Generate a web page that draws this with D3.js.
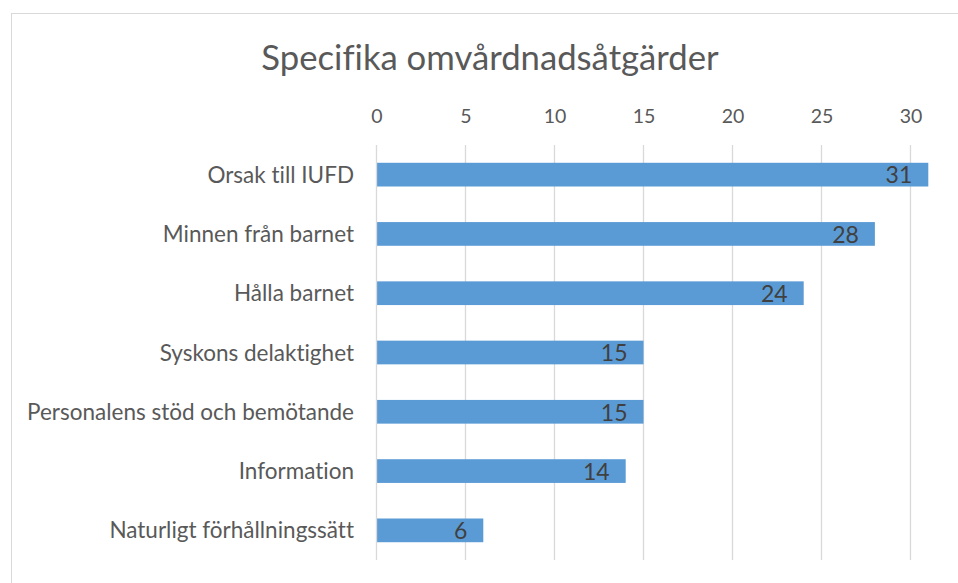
<!DOCTYPE html>
<html>
<head>
<meta charset="utf-8">
<script src="https://cdn.jsdelivr.net/npm/d3@7"></script>
<style>
  body { margin: 0; background: #fff; }
  svg { display: block; }
  text { font-variant-ligatures: none; }
</style>
</head>
<body>
<svg id="chart"></svg>
<script>
const categories = ["Orsak till IUFD", "Minnen från barnet", "Hålla barnet", "Syskons delaktighet",
  "Personalens stöd och bemötande", "Information", "Naturligt förhållningssätt"]
const values = [31, 28, 24, 15, 15, 14, 6]
const tickValues = [0, 5, 10, 15, 20, 25, 30]
const title = "Specifika omvårdnadsåtgärder"

const width = 958
const height = 583
const font = "Lato, sans-serif"

const svg = d3.select('#chart')
  .attr('width', width)
  .attr('height', height)

// chart border (cropped on the right and bottom)
svg.append('rect')
  .attr('x', 11.5)
  .attr('y', 13.5)
  .attr('width', 1000)
  .attr('height', 1000)
  .attr('fill', 'none')
  .attr('stroke', '#d9d9d9')

const margin = { left: 376.5, top: 145, bottom: 560 }

const x = d3.scaleLinear()
  .domain([0, 30])
  .range([margin.left, margin.left + 534])

const y = d3.scaleBand()
  .domain(categories)
  .range([margin.top, margin.bottom])
  .paddingInner(0.6)
  .paddingOuter(0.3)

// gridlines
svg.append('g')
  .selectAll('line')
  .data(tickValues.slice(1))
  .enter()
  .append('line')
  .attr('x1', d => x(d))
  .attr('x2', d => x(d))
  .attr('y1', margin.top)
  .attr('y2', margin.bottom)
  .attr('stroke', '#d9d9d9')
  .attr('stroke-width', 1.3)

// top axis labels
const xAxis = svg.append('g')
  .attr('transform', `translate(0, ${123})`)
  .call(d3.axisTop(x).tickValues(tickValues).tickSize(0).tickPadding(0))
xAxis.select('.domain').remove()
xAxis.selectAll('text')
  .attr('font-family', font)
  .attr('font-size', '19.5px')
  .attr('fill', '#595959')

// bars
svg.append('g')
  .selectAll('rect')
  .data(values)
  .enter()
  .append('rect')
  .attr('x', x(0))
  .attr('y', (d, i) => y(categories[i]))
  .attr('width', d => x(d) - x(0))
  .attr('height', y.bandwidth())
  .attr('fill', '#5b9bd5')

// vertical axis line
svg.append('line')
  .attr('x1', x(0))
  .attr('x2', x(0))
  .attr('y1', margin.top)
  .attr('y2', margin.bottom)
  .attr('stroke', '#d9d9d9')
  .attr('stroke-width', 1.3)

// category labels
svg.append('g')
  .selectAll('text')
  .data(categories)
  .enter()
  .append('text')
  .attr('x', 354)
  .attr('y', d => y(d) + y.bandwidth() / 2)
  .attr('dy', '0.36em')
  .attr('text-anchor', 'end')
  .attr('font-family', font)
  .attr('font-size', '22.5px')
  .attr('fill', '#595959')
  .text(d => d)

// value labels
svg.append('g')
  .selectAll('text')
  .data(values)
  .enter()
  .append('text')
  .attr('x', d => x(d) - 16)
  .attr('y', (d, i) => y(categories[i]) + y.bandwidth() / 2)
  .attr('dy', '0.38em')
  .attr('text-anchor', 'end')
  .attr('font-family', font)
  .attr('font-size', '23px')
  .attr('fill', '#404040')
  .text(d => d)

// title
svg.append('text')
  .attr('x', 490)
  .attr('y', 70)
  .attr('text-anchor', 'middle')
  .attr('font-family', font)
  .attr('font-size', '34.7px')
  .attr('fill', '#595959')
  .text(title)
</script>
</body>
</html>
